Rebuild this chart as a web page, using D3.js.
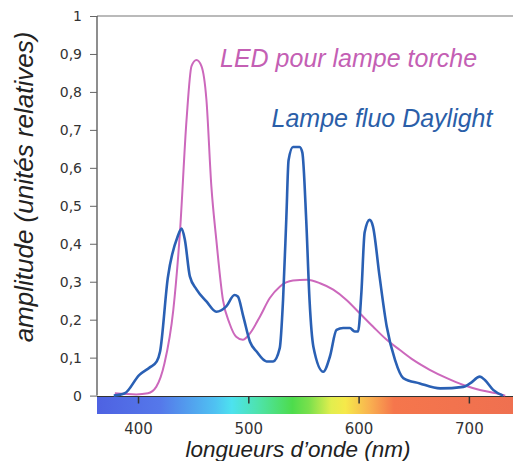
<!DOCTYPE html>
<html>
<head>
<meta charset="utf-8">
<script src="https://cdn.jsdelivr.net/npm/d3@7"></script>
<style>
  body { margin: 0; background: #fff; }
  svg { display: block; }
</style>
</head>
<body>
<div id="chart"></div>
<script>
// fluo daylight lamp spectrum (nm, relative amplitude)
const fluoNm = [378, 388, 401, 411, 417, 420, 427, 436, 439.5, 442.5, 447, 453, 462, 471, 480, 487.5, 490.5, 495.5, 501.5, 507.5,
  516.5, 522.5, 528.5, 531.5, 534.5, 536.5, 540.5, 546.5, 549, 552.5, 555.5, 559, 568, 574, 580, 586, 592, 596.5, 599.5,
  602.5, 605.5, 610, 613, 619, 625.5, 633, 640.5, 655.5, 674, 695, 701, 710, 714.5, 722, 731];
const fluoVal = [0, 0.006, 0.054, 0.075, 0.09, 0.116, 0.31, 0.42, 0.44, 0.41, 0.314, 0.28, 0.248, 0.221, 0.235, 0.265, 0.261, 0.208, 0.142, 0.116,
  0.09, 0.09, 0.125, 0.252, 0.47, 0.62, 0.655, 0.655, 0.64, 0.463, 0.252, 0.129, 0.063, 0.103, 0.173, 0.178, 0.178, 0.169, 0.169,
  0.27, 0.43, 0.463, 0.446, 0.314, 0.182, 0.094, 0.046, 0.032, 0.019, 0.023, 0.032, 0.05, 0.041, 0.015, 0];

// LED torch spectrum
const ledNm = [379, 398.5, 409, 416.5, 424, 432, 438, 444, 448.5, 453, 457.5, 462, 466.5, 471, 477, 483, 489, 495, 501.5, 510.5,
  519.5, 528.5, 540.5, 553, 565, 577, 589, 601, 613, 625.5, 637.5, 649.5, 664.5, 680, 695, 710, 725, 733];
const ledVal = [0.006, 0.003, 0.006, 0.023, 0.085, 0.226, 0.43, 0.727, 0.868, 0.884, 0.868, 0.78, 0.551, 0.41, 0.252, 0.19, 0.155, 0.147, 0.164, 0.208,
  0.257, 0.287, 0.303, 0.305, 0.296, 0.279, 0.252, 0.217, 0.182, 0.147, 0.12, 0.094, 0.068, 0.046, 0.028, 0.015, 0.006, 0];

const xTicks = [400, 500, 600, 700];
const yTicks = [0, 0.1, 0.2, 0.3, 0.4, 0.5, 0.6, 0.7, 0.8, 0.9, 1];

// visible spectrum bar colours
const specNm = [362, 420, 470, 485, 510, 540, 555, 575, 588, 610, 632, 740];
const specCol = ["#4e62e2", "#5578ea", "#4fc2f2", "#4de2ef", "#4ee3a8", "#4ddc4c", "#7ae04c", "#e2ee4e", "#f6e94a", "#f9b150", "#f5764c", "#ef7050"];

const W = 513, H = 461;
const x = d3.scaleLinear().domain([362.8, 740]).range([97, 513]);
const y = d3.scaleLinear().domain([0, 1]).range([395.6, 16]);

const svg = d3.select("#chart").append("svg").attr("width", W).attr("height", H);

const grad = svg.append("defs").append("linearGradient")
  .attr("id", "spec").attr("x1", "0%").attr("x2", "100%");
grad.selectAll("stop").data(specNm).join("stop")
  .attr("offset", d => (x(d) - 97) / (513 - 97))
  .attr("stop-color", (d, i) => specCol[i]);

// frame top
svg.append("line").attr("x1", 97).attr("x2", 513).attr("y1", y(1)).attr("y2", y(1))
  .attr("stroke", "#777").attr("stroke-width", 1.2);

// colour bar
svg.append("rect").attr("x", 97).attr("y", 396.5).attr("width", 416).attr("height", 17.5)
  .attr("fill", "url(#spec)");

// y axis
const yAxis = svg.append("g").attr("transform", "translate(97,0)")
  .call(d3.axisLeft(y).tickValues(yTicks).tickSize(7).tickFormat(d => d3.format(".1~f")(d).replace(".", ",")));
yAxis.select(".domain").attr("stroke", "#444").attr("stroke-width", 1.2).attr("d", `M0,${y(1)}V${y(0)}`);
yAxis.selectAll(".tick line").attr("stroke", "#666");
yAxis.selectAll(".tick text").attr("x", -15).attr("fill", "#333")
  .style("font-family", "DejaVu Sans").style("font-size", "14px");

// x axis on top of colour bar
const xAxis = svg.append("g").attr("transform", "translate(0,396.5)")
  .call(d3.axisBottom(x).tickValues(xTicks).tickSize(7).tickPadding(20));
xAxis.select(".domain").attr("stroke", "#333").attr("stroke-width", 1.2).attr("d", "M97,0H513");
xAxis.selectAll(".tick line").attr("stroke", "#333").attr("stroke-width", 1.5);
xAxis.selectAll(".tick text").attr("fill", "#333")
  .style("font-family", "DejaVu Sans").style("font-size", "15px");

const line = d3.line().x(d => x(d[0])).y(d => y(d[1])).curve(d3.curveMonotoneX);

svg.append("path").datum(ledNm.map((n, i) => [n, ledVal[i]]))
  .attr("d", line).attr("fill", "none").attr("stroke", "#cc68bc").attr("stroke-width", 2);

svg.append("path").datum(fluoNm.map((n, i) => [n, fluoVal[i]]))
  .attr("d", line).attr("fill", "none").attr("stroke", "#2a60b4").attr("stroke-width", 2.6);

// labels
svg.append("text").attr("x", 220).attr("y", 67).text("LED pour lampe torche")
  .attr("fill", "#c45fb4").style("font-family", "Liberation Sans").style("font-style", "italic").style("font-size", "25px");
svg.append("text").attr("x", 271.5).attr("y", 127).text("Lampe fluo Daylight")
  .attr("fill", "#2a5ea8").style("font-family", "Liberation Sans").style("font-style", "italic").style("font-size", "25px");

svg.append("text").attr("x", 298).attr("y", 457).attr("text-anchor", "middle").text("longueurs d\u2019onde (nm)")
  .attr("fill", "#222").style("font-family", "Liberation Sans").style("font-style", "italic").style("font-size", "22.5px");

svg.append("text").attr("transform", "translate(33,187) rotate(-90)").attr("text-anchor", "middle")
  .text("amplitude (unités relatives)")
  .attr("fill", "#222").style("font-family", "Liberation Sans").style("font-style", "italic").style("font-size", "26px");
</script>
</body>
</html>
